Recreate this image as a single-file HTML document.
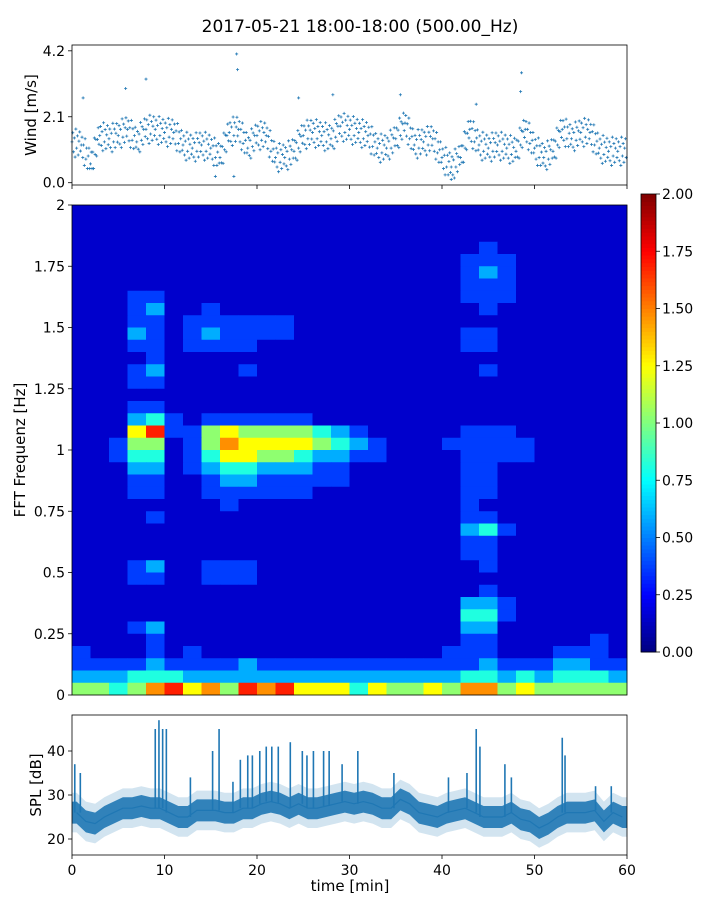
<!DOCTYPE html>
<html><head><meta charset="utf-8">
<style>
html,body{margin:0;padding:0;background:#fff;}
svg{display:block;font-family:"DejaVu Sans","Liberation Sans",sans-serif;}
</style></head>
<body>
<svg id="fig" width="720" height="900" viewBox="0 0 720 900" xmlns="http://www.w3.org/2000/svg">
<text x="360" y="32" font-size="17" text-anchor="middle">2017-05-21 18:00-18:00 (500.00_Hz)</text>
<g id="wind"></g>
<g id="spec"></g>
<g id="cbar"></g>
<g id="spl"></g>
</svg>
<script>
// ---- data ----
const windMinutes = [0,1,2,3,4,5,6,7,8,9,10,11,12,13,14,15,16,17,18,19,20,21,22,23,24,25,26,27,28,29,30,31,32,33,34,35,36,37,38,39,40,41,42,43,44,45,46,47,48,49,50,51,52,53,54,55,56,57,58,59];
const windMean = [1.3,1.2,0.6,1.5,1.4,1.5,1.7,1.3,1.7,1.7,1.6,1.6,1.2,1.1,1.2,1.1,0.8,1.6,1.7,1.1,1.5,1.5,0.8,0.8,1.0,1.5,1.6,1.5,1.4,1.8,1.7,1.6,1.5,1.1,1.1,1.4,1.9,1.2,1.3,1.4,0.8,0.5,0.8,1.7,1.2,1.1,1.2,1.1,1.0,1.7,1.1,0.8,1.0,1.7,1.4,1.6,1.6,1.1,1.0,1.0];
const windPeakT = [1.2,5.8,8.0,17.8,17.9,24.5,28.2,35.5,43.7,48.5,48.6,15.5,17.5,41.0];
const windPeakV = [2.7,3.0,3.3,4.1,3.6,2.7,2.8,2.8,2.5,2.9,3.5,0.2,0.2,0.1];
const windTicks = [0.0,2.1,4.2];

const specRows = [
"111111111111111111111111111111",
"111111111111111111111111111111",
"111111111111111111111111111111",
"111111111111111111111121111111",
"111111111111111111111222111111",
"111111111111111111111232111111",
"111111111111111111111222111111",
"111221111111111111111222111111",
"111231121111111111111121111111",
"111221222222111111111111111111",
"111321232222111111111221111111",
"111221222211111111111221111111",
"111121111111111111111111111111",
"111231111211111111111121111111",
"111221111111111111111111111111",
"111111111111111111111111111111",
"111221111111111111111111111111",
"111342122222211111111111111111",
"111682256555543211111222111111",
"112551257666654321112222211111",
"112441246655433221111222211111",
"111331234433322111111221111111",
"111221123322222111111221111111",
"111221122222211111111221111111",
"111111112111111111111211111111",
"111121111111111111111221111111",
"111111111111111111111342111111",
"111111111111111111111221111111",
"111111111111111111111221111111",
"111231122211111111111121111111",
"111221122211111111111111111111",
"111111111111111111111121111111",
"111111111111111111111332111111",
"111111111111111111111442111111",
"111231111111111111111331111111",
"111121111111111111111221111121",
"211121211111111111112221112221",
"222232222322222222222232223322",
"333444333333333333333443434443",
"554578675878666465565775655555"];
const specFreqTicks = [0,0.25,0.5,0.75,1,1.25,1.5,1.75,2];
const specFreqLabels = ["0","0.25","0.5","0.75","1","1.25","1.5","1.75","2"];
const cbarTicks = [0,0.25,0.5,0.75,1,1.25,1.5,1.75,2];

const splMean = [26,24,23.5,25,26,27,27,27.5,27,27,26,25,25,26.5,26.5,26.5,26,26,27,27,28,28.5,28,27,28,27,27,27.5,28,28.5,28,28.5,28,27,27,29,28,26,25.5,25,26,26.5,27,26,25,25,25,26,24.5,24,22.5,23.5,25,26,26,26,26.5,24,26,25];
const spikeT = [0.3,0.9,9.0,9.4,9.8,10.2,12.8,15.2,15.9,17.4,18.2,19.0,19.5,20.3,21.0,21.6,22.3,23.6,24.9,25.4,26.1,27.2,27.8,29.2,30.9,34.8,40.7,42.7,43.7,44.1,46.8,47.5,53.0,53.3,56.6,58.3];
const spikeV = [37,35,45,47,45,45,34,40,45,33,38,39,39,40,41,41,41,42,40,39,40,40,40,37,40,35,34,35,45,41,37,34,43,39,32,32];
const splTicks = [20,30,40];
const timeTicks = [0,10,20,30,40,50,60];

// ---- helpers ----
const NS="http://www.w3.org/2000/svg";
function mk(tag,attrs,parent){const e=document.createElementNS(NS,tag);for(const k in attrs)e.setAttribute(k,attrs[k]);parent.appendChild(e);return e;}
function jet(v){let t=Math.max(0,Math.min(1,v/2));
 const f=(x)=>Math.max(0,Math.min(1,1.5-Math.abs(4*t-x)));
 return `rgb(${Math.round(255*f(3))},${Math.round(255*f(2))},${Math.round(255*f(1))})`;}
const X0=72,X1=627;
const xT=(m)=>X0+(m/60)*(X1-X0);

// ---- wind panel ----
(function(){
 const g=document.getElementById('wind');
 const Y0=182.7,K=31.4,top=45,bot=185;
 const y=(v)=>Y0-v*K;
 const pattern=[0,0.3,-0.3,0.15,-0.45,0.45,-0.15,0.25,-0.35,0.1,0.4,-0.2];
 const N=pattern.length;
 windMean.forEach((v,i)=>{
  const nxt=windMean[i+1]!==undefined?windMean[i+1]:v;
  for(let j=0;j<N;j++){
   const m=windMinutes[i]+j/N, nv=v*(1-j/N)+nxt*(j/N);
   const px=xT(m), py=y(nv+pattern[j]);
   const p=mk('path',{d:`M${px-1.5},${py}h3M${px},${py-1.5}v3`,stroke:'#1f77b4','stroke-width':0.8},g);
   
   
  }
 });
 windPeakT.forEach((t,i)=>{
  const px=xT(t),py=y(windPeakV[i]);
  const p=mk('path',{d:`M${px-1.5},${py}h3M${px},${py-1.5}v3`,stroke:'#1f77b4','stroke-width':0.8},g);
  
  
 });
 const fr=mk('rect',{x:X0,y:top,width:X1-X0,height:bot-top,fill:'none',stroke:'#000','stroke-width':0.8},g);
 
 
 windTicks.forEach(v=>{
  mk('line',{x1:X0-4,x2:X0,y1:y(v),y2:y(v),stroke:'#000','stroke-width':0.8},g);
  const t=mk('text',{x:X0-7,y:y(v)+5,'font-size':14,'text-anchor':'end'},g);t.textContent=v.toFixed(1);
  
  
 });
 timeTicks.forEach(m=>mk('line',{x1:xT(m),x2:xT(m),y1:bot,y2:bot+4,stroke:'#000','stroke-width':0.8},g));
 const yl=mk('text',{x:0,y:0,'font-size':15,'text-anchor':'middle',transform:'translate(36,115) rotate(-90)'},g);
 yl.textContent='Wind [m/s]';
 
 
})();

// ---- spectrogram ----
(function(){
 const g=document.getElementById('spec');
 const top=205,bot=695;
 const fy=(f)=>bot-(f/2)*(bot-top);
 const nR=specRows.length, nC=specRows[0].length;
 const fStep=2/nR, tStep=60/nC;
 specRows.forEach((row,r)=>{
  const fHi=2-r*fStep, fLo=fHi-fStep;
  for(let c=0;c<nC;c++){
   const d=parseInt(row[c]||'1');
   const v=Math.max(0.02,d*0.22-0.07);
   const x1=xT(c*tStep), x2=xT((c+1)*tStep);
   const cell=mk('rect',{x:x1,y:fy(fHi),width:x2-x1+0.3,height:fy(fLo)-fy(fHi)+0.3,fill:jet(v)},g);
   
   
  }
 });
 const fr=mk('rect',{x:X0,y:top,width:X1-X0,height:bot-top,fill:'none',stroke:'#000','stroke-width':0.8},g);
 
 
 specFreqTicks.forEach((f,i)=>{
  mk('line',{x1:X0-4,x2:X0,y1:fy(f),y2:fy(f),stroke:'#000','stroke-width':0.8},g);
  const t=mk('text',{x:X0-7,y:fy(f)+5,'font-size':14,'text-anchor':'end'},g);t.textContent=specFreqLabels[i];
  
  
 });
 const yl=mk('text',{x:0,y:0,'font-size':15,'text-anchor':'middle',transform:'translate(25,450) rotate(-90)'},g);
 yl.textContent='FFT Frequenz [Hz]';
 
 
})();

// ---- colorbar ----
(function(){
 const g=document.getElementById('cbar');
 const x=641,w=15,top=194,bot=652;
 const cy=(v)=>bot-(v/2)*(bot-top);
 for(let i=0;i<120;i++){
  const v0=i/120*2, v1=(i+1)/120*2;
  mk('rect',{x:x,y:cy(v1),width:w,height:cy(v0)-cy(v1)+0.5,fill:jet((v0+v1)/2)},g);
 }
 mk('rect',{x:x,y:top,width:w,height:bot-top,fill:'none',stroke:'#000','stroke-width':0.8},g);
 cbarTicks.forEach(v=>{
  mk('line',{x1:x+w,x2:x+w+4,y1:cy(v),y2:cy(v),stroke:'#000','stroke-width':0.8},g);
  const t=mk('text',{x:x+w+6,y:cy(v)+5,'font-size':14},g);t.textContent=v.toFixed(2);
  
  
 });
})();

// ---- SPL panel ----
(function(){
 const g=document.getElementById('spl');
 const top=715,bot=855,Y20=839,K=4.4;
 const y=(v)=>Y20-(v-20)*K;
 const n=splMean.length;
 const band=(w,op)=>{
  let d='M'+xT(0)+','+y(splMean[0]+w);
  splMean.forEach((v,i)=>{d+='L'+xT(i+0.5)+','+y(v+w);});
  d+='L'+xT(60)+','+y(splMean[n-1]+w)+'L'+xT(60)+','+y(splMean[n-1]-w);
  for(let i=n-1;i>=0;i--)d+='L'+xT(i+0.5)+','+y(splMean[i]-w);
  d+='L'+xT(0)+','+y(splMean[0]-w)+'Z';
  const p=mk('path',{d:d,fill:'#1f77b4','fill-opacity':op,stroke:'none'},g);
  
  
 };
 band(4.5,0.2); band(2.5,0.9);
 let d='';
 splMean.forEach((v,i)=>{d+=(i?'L':'M')+xT(i+0.5)+','+y(v);});
 const ln=mk('path',{d:d,fill:'none',stroke:'#1f77b4','stroke-width':1.2},g);
 
 
 spikeT.forEach((t,i)=>{
  const base=splMean[Math.min(n-1,Math.floor(t))];
  const s=mk('line',{x1:xT(t),x2:xT(t),y1:y(base),y2:y(spikeV[i]),stroke:'#1f77b4','stroke-width':1.6},g);
  
  
 });
 const fr=mk('rect',{x:X0,y:top,width:X1-X0,height:bot-top,fill:'none',stroke:'#000','stroke-width':0.8},g);
 
 
 splTicks.forEach(v=>{
  mk('line',{x1:X0-4,x2:X0,y1:y(v),y2:y(v),stroke:'#000','stroke-width':0.8},g);
  const t=mk('text',{x:X0-7,y:y(v)+5,'font-size':14,'text-anchor':'end'},g);t.textContent=v;
  
  
 });
 timeTicks.forEach(m=>{
  mk('line',{x1:xT(m),x2:xT(m),y1:bot,y2:bot+4,stroke:'#000','stroke-width':0.8},g);
  const t=mk('text',{x:xT(m),y:bot+20,'font-size':14,'text-anchor':'middle'},g);t.textContent=m;
  
  
 });
 const yl=mk('text',{x:0,y:0,'font-size':15,'text-anchor':'middle',transform:'translate(41,785) rotate(-90)'},g);
 yl.textContent='SPL [dB]';
 
 
 const xl=mk('text',{x:350,y:891,'font-size':15,'text-anchor':'middle'},g);
 xl.textContent='time [min]';
 
 
})();
</script>
</body></html>
